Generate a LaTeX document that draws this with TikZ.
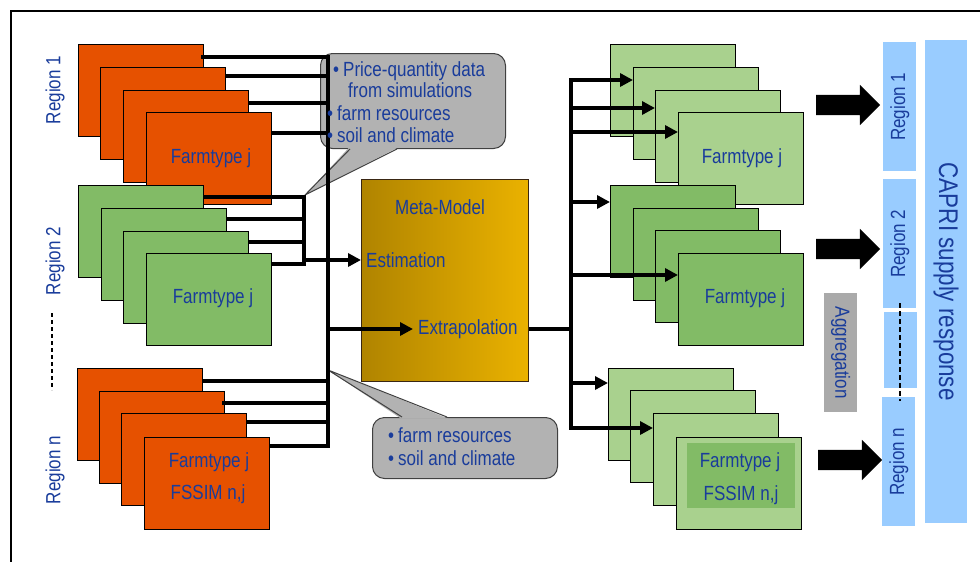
\documentclass[tikz,border=0pt]{standalone}
\usepackage{fontspec}
\setmainfont{Liberation Sans}[FakeStretch=0.83]
\usetikzlibrary{calc,arrows.meta,shapes.arrows}
\definecolor{orng}{RGB}{230,81,0}
\definecolor{mgreen}{RGB}{130,187,102}
\definecolor{lgreen}{RGB}{169,209,142}
\definecolor{txtblue}{RGB}{25,60,155}
\definecolor{bubgray}{RGB}{178,178,178}
\definecolor{agggray}{RGB}{170,170,170}
\definecolor{lblue}{RGB}{153,204,255}
\definecolor{golddark}{RGB}{176,132,0}
\definecolor{goldlight}{RGB}{234,178,0}
\newcommand\bul{\makebox[10pt][l]{\textbullet}}
\begin{document}
\begin{tikzpicture}[x=1pt,y=-1pt,
  txt/.style={font=\fontsize{20.5pt}{24pt}\selectfont, text=txtblue, inner sep=0pt},
  bigtxt/.style={font=\fontsize{27pt}{30pt}\selectfont, text=txtblue, inner sep=0pt},
  farm/.style={draw=black, line width=1.3pt, minimum width=125pt, minimum height=92pt, anchor=north west, inner sep=0pt},
  orbox/.style={farm, fill=orng},
  mgbox/.style={farm, fill=mgreen},
  lgbox/.style={farm, fill=lgreen},
  conn/.style={line width=4pt},
  arr/.style={line width=4pt, -{Triangle[length=13pt,width=13pt]}},
  bigarrow/.style={single arrow, fill=black, draw=none, minimum height=64pt, minimum width=40pt, single arrow head extend=10pt, inner xsep=0pt, inner ysep=10pt},
  bar/.style={fill=lblue, draw=none, anchor=north west, inner sep=0pt},
  bubble/.style={fill=bubgray, draw=black!75, line width=1pt, rounded corners=12pt, anchor=north west, inner sep=0pt},
  bubline/.style={draw=black!75, line width=1pt},
  meta/.style={draw=black!70!brown, line width=1.3pt, left color=golddark, right color=goldlight, minimum width=167pt, minimum height=202pt, anchor=north west, inner sep=0pt}
]
\useasboundingbox (0,0) rectangle (980,562);
% frame
\draw[line width=2pt] (980,11) -- (11,11) -- (11,562);

% bubbles
\node[bubble, minimum width=185pt, minimum height=95pt] (bub1) at (320,53) {};
\coordinate (tip1) at (305,195);
\coordinate (p1a) at ($(bub1.south west)+(30,0)$);
\coordinate (p1b) at ($(bub1.south west)+(77,0)$);
\fill[bubgray] ($(p1a)+(-1,-1.5)$) -- (tip1) -- ($(p1b)+(1,-1.5)$) -- cycle;
\draw[bubline] (p1a) -- (tip1) -- (p1b);

\node[bubble, minimum width=185pt, minimum height=61pt] (bub2) at (372,417) {};
\coordinate (tip2) at (328,370);
\coordinate (p2a) at ($(bub2.north west)+(30,0)$);
\coordinate (p2b) at ($(bub2.north west)+(75,0)$);
\fill[bubgray] ($(p2a)+(-1,1.5)$) -- (tip2) -- ($(p2b)+(1,1.5)$) -- cycle;
\draw[bubline] (p2a) -- (tip2) -- (p2b);

% left farm boxes
\node[orbox] (r1a) at (78,44) {};
\node[orbox] (r1b) at (100,67) {};
\node[orbox] (r1c) at (123,90) {};
\node[orbox] (r1d) at (146,112) {};
\node[mgbox] (r2a) at (78,185) {};
\node[mgbox] (r2b) at (101,208) {};
\node[mgbox] (r2c) at (123,231) {};
\node[mgbox] (r2d) at (146,253) {};
\node[orbox] (rna) at (77,368) {};
\node[orbox] (rnb) at (99,391) {};
\node[orbox] (rnc) at (121,413) {};
\node[orbox] (rnd) at (144,437) {};

% right farm boxes
\node[lgbox] (q1a) at (610,44) {};
\node[lgbox] (q1b) at (633,67) {};
\node[lgbox] (q1c) at (655,90) {};
\node[lgbox] (q1d) at (678,112) {};
\node[mgbox] (q2a) at (610,185) {};
\node[mgbox] (q2b) at (633,208) {};
\node[mgbox] (q2c) at (655,230) {};
\node[mgbox] (q2d) at (678,253) {};
\node[lgbox] (qna) at (608,368) {};
\node[lgbox] (qnb) at (630,390) {};
\node[lgbox] (qnc) at (653,413) {};
\node[lgbox] (qnd) at (676,437) {};
\node[fill=mgreen, draw=none, anchor=north west, minimum width=108pt, minimum height=65pt, inner sep=0pt] (qin) at (687,443) {};

% meta model
\node[meta] (meta) at (361,179) {};

% left connectors
\coordinate (busT) at (328,57);
\coordinate (busB) at (328,446);
\coordinate (L1) at ($(r1a.north east)+(-3,13)$);
\coordinate (L2) at ($(r1b.north east)+(0,9)$);
\coordinate (L3) at ($(r1c.north east)+(0,13)$);
\coordinate (L4) at ($(r1d.north east)+(0,21)$);
\coordinate (N1) at ($(rna.north east)+(-1,13)$);
\coordinate (N2) at ($(rnb.north east)+(-3,12)$);
\coordinate (N3) at ($(rnc.north east)+(0,9)$);
\coordinate (N4) at ($(rnd.north east)+(-1,9)$);
\draw[conn] (L1) -- (busT) -- (busB) -- (N4);
\foreach \c in {L2,L3,L4,N1,N2,N3} \draw[conn] (\c) -- ([xshift=2pt]\c -| busT);

\coordinate (sbT) at (304,197);
\coordinate (sbB) at (304,266);
\coordinate (M1) at ($(r2a.north east)+(0,12)$);
\coordinate (M2) at ($(r2b.north east)+(0,11)$);
\coordinate (M3) at ($(r2c.north east)+(0,11)$);
\coordinate (M4) at ($(r2d.north east)+(0,11)$);
\draw[conn] (M1) -- (sbT) -- (sbB);
\foreach \c in {M2,M3,M4} \draw[conn] (\c) -- ([xshift=2pt]\c -| sbT);

% meta texts
\node[txt, anchor=base] (mmt) at (440,214) {Meta-Model};
\node[txt, anchor=base west] (est) at (366,267) {Estimation};
\node[txt, anchor=base west] (ext) at (418,334) {Extrapolation};

\coordinate (est0) at (302,260);
\draw[arr] (est0) -- (est0 -| meta.west);
\coordinate (ex0) at (326,329);
\draw[arr, shorten >=5pt] (ex0) -- (ex0 -| ext.west);

% right connectors
\coordinate (busRT) at (571,78);
\coordinate (busRB) at (571,430);
\coordinate (out0) at (meta.east |- ex0);
\draw[conn] (out0) -- ([xshift=2pt]out0 -| busRT);
\draw[conn] (busRT) -- (busRB);
\coordinate (a1) at (569,80);
\coordinate (a2) at (569,108);
\coordinate (a3) at (569,132);
\coordinate (a4) at (569,202);
\coordinate (a5) at (569,275);
\coordinate (a6) at (569,383);
\coordinate (a7) at (569,428);
\draw[arr] (a1) -- (a1 -| q1b.west);
\draw[arr] (a2) -- (a2 -| q1c.west);
\draw[arr] (a3) -- (a3 -| q1d.west);
\draw[arr] (a4) -- (a4 -| q2a.west);
\draw[arr] (a5) -- (a5 -| q2d.west);
\draw[arr] (a6) -- (a6 -| qna.west);
\draw[arr] (a7) -- (a7 -| qnc.west);

% bubble texts
\node[txt, anchor=base west] (b1l1) at (333,76) {\bul Price-quantity data};
\node[txt, anchor=base west] (b1l2) at (348,97) {from simulations};
\node[txt, anchor=base west] (b1l3) at (327,120) {\bul farm resources};
\node[txt, anchor=base west] (b1l4) at (327,142) {\bul soil and climate};
\node[txt, anchor=base west] (b2l1) at (388,442) {\bul farm resources};
\node[txt, anchor=base west] (b2l2) at (388,465) {\bul soil and climate};

% farm texts
\node[txt, anchor=base] (t1) at (211,163) {Farmtype j};
\node[txt, anchor=base] (t2) at (213,303) {Farmtype j};
\node[txt, anchor=base] (t3) at (209,467) {Farmtype j};
\node[txt, anchor=base] (t4) at (208,499) {FSSIM n,j};
\node[txt, anchor=base] (t5) at (742,163) {Farmtype j};
\node[txt, anchor=base] (t6) at (745,303) {Farmtype j};
\node[txt, anchor=base] (t7) at (740,467) {Farmtype j};
\node[txt, anchor=base] (t8) at (741,500) {FSSIM n,j};

% left region labels
\node[txt, rotate=90] (lab1) at (55,90) {Region 1};
\node[txt, rotate=90] (lab2) at (55,261) {Region 2};
\node[txt, rotate=90] (labn) at (55,470) {Region n};
\coordinate (ldT) at (52,313);
\coordinate (ldB) at (52,390);
\draw[line width=2.5pt, dash pattern=on 4pt off 3pt] (ldT) -- (ldB);

% big arrows
\node[bigarrow] (ba1) at (843,105) {};
\node[bigarrow] (ba2) at (843,249) {};
\node[bigarrow] (ba3) at (845,460) {};

% right bars
\node[bar, minimum width=33pt, minimum height=129pt] (bar1) at (883,42) {};
\node[bar, minimum width=33pt, minimum height=129pt] (bar2) at (883,179) {};
\node[bar, minimum width=33pt, minimum height=76pt] (bar3) at (884,312) {};
\node[bar, minimum width=33pt, minimum height=129pt] (barn) at (882,397) {};
\node[bar, minimum width=42pt, minimum height=483pt] (capri) at (925,40) {};
\node[fill=agggray, draw=none, anchor=north west, minimum width=33pt, minimum height=119pt, inner sep=0pt] (agg) at (824,293) {};
\coordinate (rdT) at (900,303);
\coordinate (rdB) at (900,401);
\draw[line width=2pt, dash pattern=on 5pt off 3pt] (rdT) -- (rdB);

\node[txt, rotate=90] at (bar1.center) {Region 1};
\node[txt, rotate=90] at (bar2.center) {Region 2};
\node[txt, rotate=90] at (barn.center) {Region n};
\node[txt, rotate=-90] at (agg.center) {Aggregation};
\node[bigtxt, rotate=-90] at (capri.center) {CAPRI supply response};
\end{tikzpicture}
\end{document}
